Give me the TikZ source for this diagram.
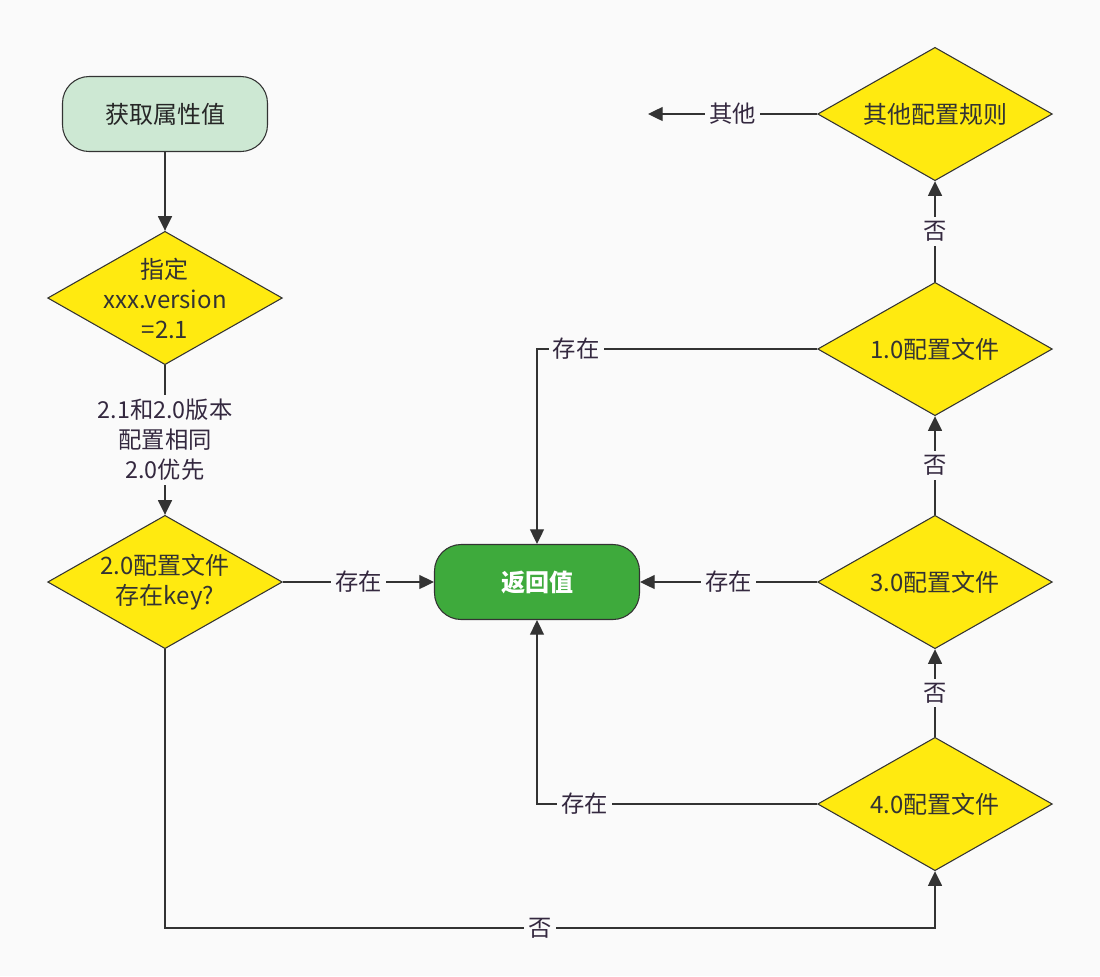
\documentclass[tikz,border=0pt]{standalone}
\usepackage{fontspec}
\setmainfont{Noto Sans CJK SC}
\usetikzlibrary{shapes.geometric}
\usetikzlibrary{arrows.meta}

\definecolor{bgfill}{HTML}{FAFAFA}
\definecolor{linegray}{HTML}{333333}
\definecolor{startfill}{HTML}{CDE8D3}
\definecolor{retfill}{HTML}{3EAA3C}
\definecolor{askfill}{HTML}{FFEA10}
\definecolor{labeltext}{HTML}{34283F}

\tikzset{
  flow/.style={draw=linegray, line width=1pt, -{Triangle[length=11pt,width=10.5pt]}},
  terminal/.style={draw=linegray, line width=0.8pt, rounded corners=20pt, minimum width=153.75pt, minimum height=56.25pt, font=\fontsize{18}{22.5}\selectfont},
  decision/.style={diamond, draw=linegray, line width=0.8pt, fill=askfill, minimum width=176pt, minimum height=100pt, inner sep=0pt},
  dtext/.style={align=center, text=linegray, inner sep=0pt, font=\fontsize{18}{22.5}\selectfont},
  elabel/.style={fill=bgfill, inner sep=3pt, align=center, text=labeltext, font=\fontsize{17.5}{22.5}\selectfont}
}

\begin{document}
\begin{tikzpicture}[x=0.75pt,y=0.75pt,yscale=-1,xscale=1]
\fill[bgfill] (0,0) rectangle (1100,976);

% left column
\node[terminal, fill=startfill, text=black!85] (start) at (165,114) {获取属性值};
\node[decision] (d21) at (165,298) {};
\node[dtext] (d21txt) at (d21) {指定\\xxx.version\\=2.1};
\node[decision] (d20) at (165,582) {};
\node[dtext] (d20txt) at (d20) {2.0配置文件\\存在key?};

% return value
\node[terminal, fill=retfill, text=white, font=\fontsize{18}{22.5}\selectfont\bfseries] (ret) at (537,582) {返回值};

% right column
\node[decision] (d0) at (935,114) {};
\node[dtext] (d0txt) at (d0) {其他配置规则};
\node[decision] (d10) at (935,349) {};
\node[dtext] (d10txt) at (d10) {1.0配置文件};
\node[decision] (d30) at (935,582) {};
\node[dtext] (d30txt) at (d30) {3.0配置文件};
\node[decision] (d40) at (935,804) {};
\node[dtext] (d40txt) at (d40) {4.0配置文件};

\coordinate (other) at (648,114);
\coordinate (low) at (540,928);

% connectors
\draw[flow] (start) -- (d21);
\draw[flow] (d21.south) -- node[elabel]{2.1和2.0版本\\配置相同\\2.0优先} (d20.north);
\draw[flow] (d20.east) -- node[elabel]{存在} (ret.west);
\draw[flow] (d20.south) |- (low) node[elabel]{否} -| (d40.south);
\draw[flow] (d40.north) -- node[elabel]{否} (d30.south);
\draw[flow] (d30.north) -- node[elabel]{否} (d10.south);
\draw[flow] (d10.north) -- node[elabel]{否} (d0.south);
\draw[flow] (d30.west) -- node[elabel]{存在} (ret.east);
\draw[flow] (d10.west) -| node[elabel, pos=0.43]{存在} (ret.north);
\draw[flow] (d40.west) -| node[elabel, pos=0.415]{存在} (ret.south);
\draw[flow] (d0.west) -- node[elabel]{其他} (other);

\end{tikzpicture}
\end{document}
